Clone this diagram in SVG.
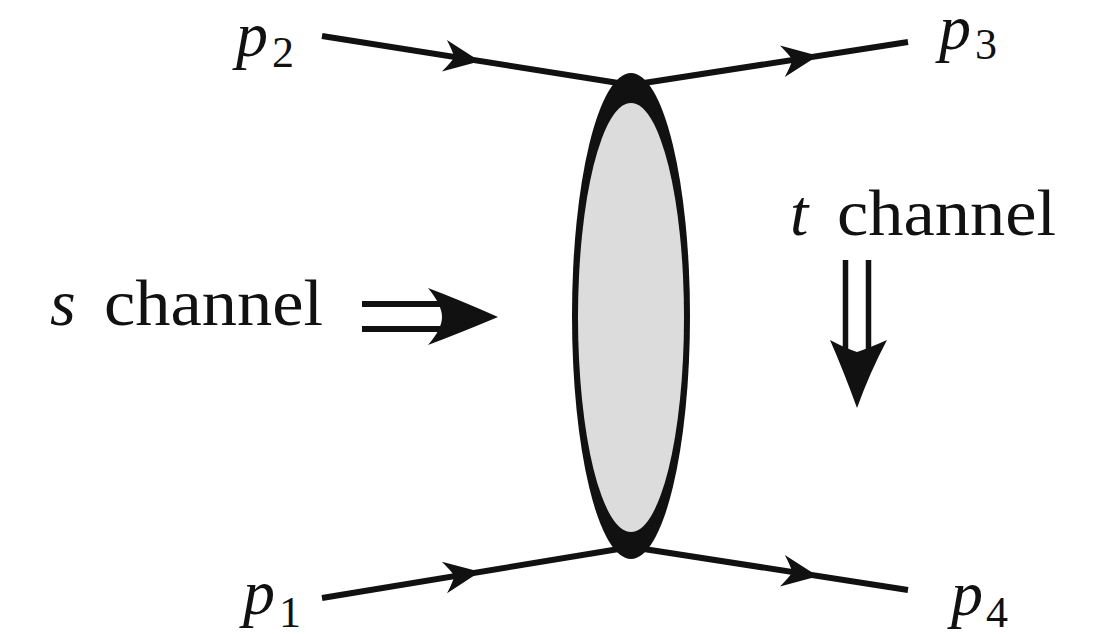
<svg xmlns="http://www.w3.org/2000/svg" width="1102" height="635" viewBox="0 0 1102 635">
  <style>
    .lbl { font-family: "Liberation Serif", "DejaVu Serif", serif; fill: #111; }
    .it { font-style: italic; }
    .ln { stroke: #111; stroke-width: 6; fill: none; stroke-linecap: butt; }
    .hd { fill: #111; }
  </style>
  <defs>
    <path id="ah" d="M2,0 L-34,-16 Q-26,-5 -24,0 Q-26,5 -34,16 Z"/>
  </defs>
  <rect width="1102" height="635" fill="#fff"/>

  <g id="connectors">
    <line class="ln" x1="322" y1="36" x2="631" y2="85"/>
    <line class="ln" x1="631" y1="85" x2="908" y2="42"/>
    <line class="ln" x1="322" y1="598" x2="631" y2="547"/>
    <line class="ln" x1="631" y1="547" x2="908" y2="590"/>
    <use href="#ah" class="hd" transform="translate(478,61) rotate(9.0)"/>
    <use href="#ah" class="hd" transform="translate(816,56) rotate(-8.8)"/>
    <use href="#ah" class="hd" transform="translate(478,572) rotate(-9.4)"/>
    <use href="#ah" class="hd" transform="translate(816,576) rotate(8.8)"/>
  </g>

  <g id="blob">
    <ellipse cx="631" cy="316" rx="59" ry="243" fill="#111"/>
    <ellipse cx="631" cy="317.5" rx="53" ry="214.5" fill="#dcdcdc"/>
  </g>

  <g id="s-arrow">
    <line class="ln" x1="362" y1="304" x2="442" y2="304"/>
    <line class="ln" x1="362" y1="329" x2="442" y2="329"/>
    <path class="hd" d="M498,317 Q460,300 428,288 Q442,305 442,317 Q442,329 428,345 Q460,333 498,317 Z"/>
  </g>

  <g id="t-arrow">
    <line class="ln" x1="845.5" y1="260" x2="845.5" y2="352" style="stroke-width:5.5"/>
    <line class="ln" x1="868.5" y1="260" x2="868.5" y2="352" style="stroke-width:5.5"/>
    <path class="hd" d="M857,408 Q844,372 830,340 Q845,348 857,352 Q869,348 887,340 Q870,372 857,408 Z"/>
  </g>

  <g id="label-p2">
    <text class="lbl it" x="236" y="56" font-size="64">p</text>
    <text class="lbl" x="272" y="67" font-size="44">2</text>
  </g>
  <g id="label-p3">
    <text class="lbl it" x="939" y="49" font-size="64">p</text>
    <text class="lbl" x="975" y="59" font-size="44">3</text>
  </g>
  <g id="label-p1">
    <text class="lbl it" x="243" y="614" font-size="64">p</text>
    <text class="lbl" x="279" y="627" font-size="44">1</text>
  </g>
  <g id="label-p4">
    <text class="lbl it" x="951" y="615" font-size="64">p</text>
    <text class="lbl" x="986" y="627" font-size="44">4</text>
  </g>
  <g id="label-s">
    <text class="lbl it" x="50" y="325" font-size="66">s</text>
    <text class="lbl" x="104" y="325" font-size="66" textLength="219" lengthAdjust="spacingAndGlyphs">channel</text>
  </g>
  <g id="label-t">
    <text class="lbl it" x="790" y="235" font-size="66">t</text>
    <text class="lbl" x="837" y="235" font-size="66" textLength="219" lengthAdjust="spacingAndGlyphs">channel</text>
  </g>
</svg>
